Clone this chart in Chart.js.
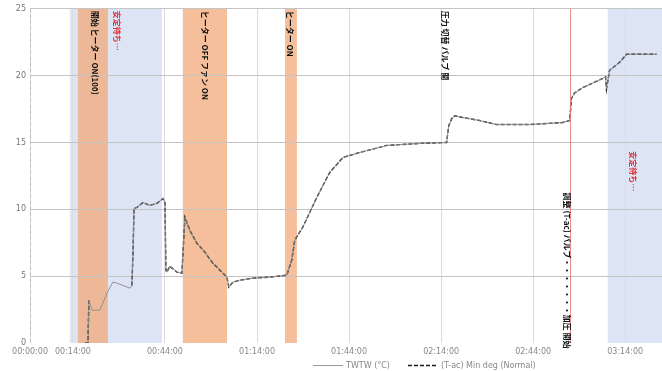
<!DOCTYPE html>
<html><head><meta charset="utf-8">
<script src="https://cdn.jsdelivr.net/npm/chart.js@4.4.0/dist/chart.umd.min.js"></script>
<style>html,body{margin:0;padding:0;background:#fff;}#c{display:block;}</style>
</head><body>
<canvas id="c" width="662" height="371"></canvas>
<script>
// time in minutes from start
const times = [17.9,18.9,19.2,20.2,22.8,25.1,27.0,28.3,32.6,33.2,33.6,33.9,34.9,36.8,39.1,41.4,43.3,44.0,44.3,44.6,45.6,46.3,47.2,47.9,49.5,50.5,52.1,54.4,57.0,59.6,61.9,64.2,64.8,66.1,68.4,72.6,78.2,83.7,85.3,86.3,88.9,93.5,97.7,102.0,107.5,116.3,127.0,135.8,136.5,137.5,138.4,141.0,146.6,152.1,162.9,173.6,175.9,176.5,177.5,180.1,186.6,187.6,187.9,188.9,192.2,194.5,197.7,204.2];
const seriesA = [0,0,3.2,2.46,2.46,3.73,4.55,4.48,4.1,4.3,6.9,10.07,10.15,10.5,10.3,10.45,10.8,10.5,5.45,5.3,5.75,5.6,5.45,5.3,5.22,9.4,8.43,7.46,6.8,5.97,5.45,4.93,4.18,4.55,4.7,4.85,4.93,5.07,6.19,7.69,8.66,10.9,12.76,13.88,14.25,14.78,14.93,15.0,16.27,16.8,17.0,16.87,16.64,16.34,16.34,16.49,16.64,18.3,18.7,19.1,19.78,19.9,19.0,20.4,21.0,21.6,21.6,21.6];
const seriesB = [0,0,3.2,null,null,null,null,null,null,4.3,6.9,10.07,10.15,10.5,10.3,10.45,10.8,10.5,5.45,5.3,5.75,5.6,5.45,5.3,5.22,9.4,8.43,7.46,6.8,5.97,5.45,4.93,4.18,4.55,4.7,4.85,4.93,5.07,6.19,7.69,8.66,10.9,12.76,13.88,14.25,14.78,14.93,15.0,16.27,16.8,17.0,16.87,16.64,16.34,16.34,16.49,16.64,18.3,18.7,19.1,19.78,19.9,19.0,20.4,21.0,21.6,21.6,21.6];
const seriesNames = ["TWTW (°C)", "(T-ac) Min deg (Normal)"];
const tickValues = [0,14,44,74,104,134,164,194];
const tickLabels = ["00:00:00","00:14:00","00:44:00","01:14:00","01:44:00","02:14:00","02:44:00","03:14:00"];
const yTicks = [0,5,10,15,20,25];
// shaded phases [start, end]
const blueBands = [[13.0,43.0],[188.3,206]];
const orangeBands = [[15.6,25.4],[49.8,64.2],[83.1,87.0]];
const redLines = [175.9];
// vertical notes [x, text, colour key, start y value]
const notes = [
  [21.2, "開始 ヒーター ON(100)", "k", 25],
  [28.3, "安定待ち…", "r", 25],
  [57.0, "ヒーター OFF ファン ON", "k", 25],
  [84.7, "ヒーター ON", "k", 25],
  [135.2, "圧力 切替 バルブ 開", "k", 25],
  [175.2, "調整 (T-ac) バルブ・・・・・・・加圧 開始", "k", 11.4],
  [196.4, "安定待ち…", "r", 14.5]
];

const bandPlugin = {
  id: 'bands',
  beforeDraw(chart) {
    const {ctx, chartArea: a, scales: {x}} = chart;
    ctx.save();
    ctx.fillStyle = 'rgb(221,228,244)';
    blueBands.forEach(([s,e]) => {
      const x0 = x.getPixelForValue(s), x1 = Math.min(x.getPixelForValue(e), a.right);
      ctx.fillRect(x0, a.top, x1 - x0, a.bottom - a.top);
    });
    ctx.fillStyle = 'rgba(240,170,120,0.75)';
    orangeBands.forEach(([s,e]) => {
      const x0 = x.getPixelForValue(s), x1 = x.getPixelForValue(e);
      ctx.fillRect(x0, a.top, x1 - x0, a.bottom - a.top);
    });
    ctx.restore();
  },
  afterDatasetsDraw(chart) {
    const {ctx, chartArea: a, scales: {x, y}} = chart;
    ctx.save();
    // dashed y axis line
    ctx.strokeStyle = '#bbb';
    ctx.setLineDash([3, 3]);
    ctx.beginPath(); ctx.moveTo(Math.round(a.left) + 0.5, a.top); ctx.lineTo(Math.round(a.left) + 0.5, a.bottom); ctx.stroke();
    ctx.setLineDash([]);
    ctx.strokeStyle = 'rgba(225,110,110,0.8)';
    ctx.lineWidth = 1;
    redLines.forEach(v => {
      const px = Math.round(x.getPixelForValue(v)) + 0.5;
      ctx.beginPath(); ctx.moveTo(px, a.top); ctx.lineTo(px, a.bottom); ctx.stroke();
    });
    ctx.font = 'bold 8px "Noto Sans CJK JP"';
    ctx.textBaseline = 'middle';
    ctx.textAlign = 'left';
    notes.forEach(([v, t, c, yv]) => {
      const px = x.getPixelForValue(v);
      const py = Math.max(y.getPixelForValue(yv), a.top) + 2;
      ctx.save();
      ctx.translate(px, py);
      ctx.rotate(Math.PI / 2);
      ctx.fillStyle = c === 'r' ? '#e0303a' : '#111';
      ctx.fillText(t, 0, 0);
      ctx.restore();
    });
    ctx.restore();
  },
  afterDraw(chart) {
    // legend
    const {ctx} = chart;
    const ly = 365.5;
    let lx = 313;
    ctx.save();
    ctx.font = '8px "DejaVu Sans"';
    ctx.textBaseline = 'middle';
    ctx.textAlign = 'left';
    chart.data.datasets.forEach((ds) => {
      ctx.strokeStyle = ds.borderColor;
      ctx.lineWidth = ds.borderWidth;
      ctx.setLineDash(ds.borderDash || []);
      ctx.beginPath(); ctx.moveTo(lx, ly); ctx.lineTo(lx + 30, ly); ctx.stroke();
      ctx.setLineDash([]);
      ctx.fillStyle = '#888';
      ctx.fillText(ds.label, lx + 33, ly);
      lx += 33 + ctx.measureText(ds.label).width + 18;
    });
    ctx.restore();
  }
};

new Chart(document.getElementById('c'), {
  type: 'line',
  data: {
    datasets: [
      {
        label: seriesNames[0],
        data: times.map((t, i) => ({x: t, y: seriesA[i]})),
        borderColor: 'rgba(140,140,140,0.9)',
        backgroundColor: 'transparent',
        borderWidth: 1,
        pointRadius: 0,
        tension: 0
      },
      {
        label: seriesNames[1],
        data: times.map((t, i) => ({x: t, y: seriesB[i]})),
        borderColor: '#1a1a1a',
        backgroundColor: 'transparent',
        borderWidth: 1.4,
        borderDash: [4, 2],
        pointRadius: 0,
        spanGaps: false,
        tension: 0
      }
    ]
  },
  options: {
    responsive: false,
    animation: false,
    layout: {padding: {left: 0, right: 0, top: 0, bottom: 15}},
    plugins: {
      legend: {display: false},
      tooltip: {enabled: false}
    },
    scales: {
      x: {
        type: 'linear', min: 0, max: 206,
        afterBuildTicks(s) { s.ticks = tickValues.map(v => ({value: v})); },
        afterFit(s) { s.height = 13; },
        ticks: {
          autoSkip: false, maxRotation: 0,
          callback: (v) => tickLabels[tickValues.indexOf(v)],
          font: {size: 8, family: 'DejaVu Sans'}, color: '#888', padding: 4
        },
        grid: {color: '#dcdcdc', drawTicks: false},
        border: {display: false}
      },
      y: {
        min: 0, max: 25,
        afterBuildTicks(s) { s.ticks = yTicks.map(v => ({value: v})); },
        afterFit(s) { s.width = 30; },
        ticks: {font: {size: 8, family: 'DejaVu Sans'}, color: '#777', padding: 4},
        grid: {color: (c) => c.tick && c.tick.value === 0 ? 'rgba(0,0,0,0)' : '#c4c4c4', drawTicks: false},
        border: {display: false}
      }
    }
  },
  plugins: [bandPlugin]
});
</script>
</body></html>
